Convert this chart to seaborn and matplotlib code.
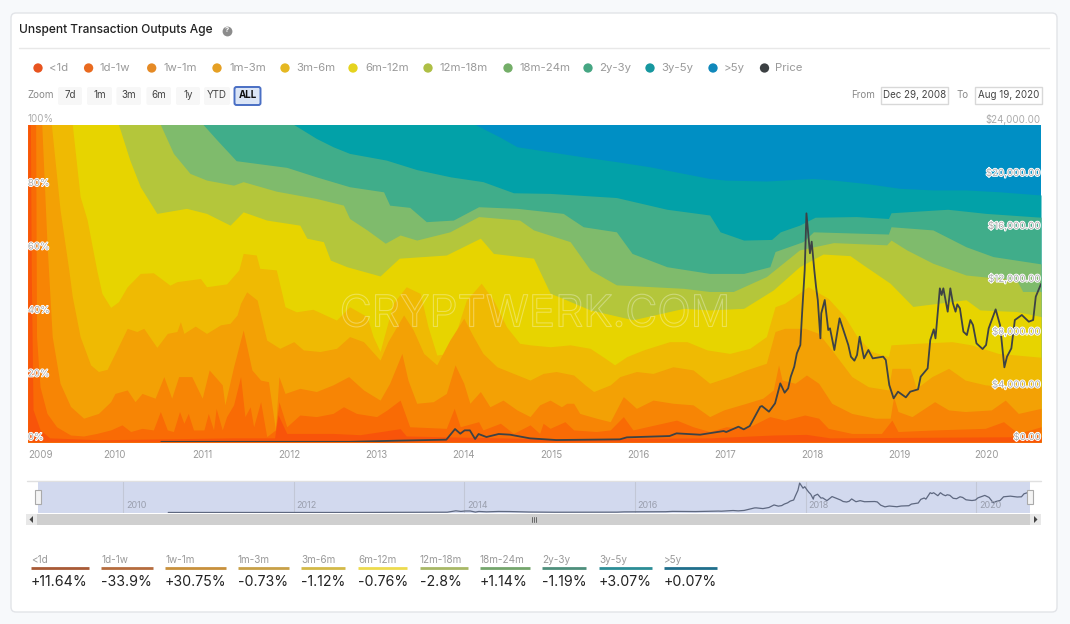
import matplotlib
matplotlib.use("Agg")
import matplotlib.pyplot as plt
import matplotlib.patheffects as pe
from matplotlib.patches import FancyBboxPatch, Rectangle, Polygon
import pandas as pd
import seaborn as sns

# series names and colours
bands = ["<1d", "1d-1w", "1w-1m", "1m-3m", "3m-6m", "6m-12m", "12m-18m", "18m-24m", "2y-3y", "3y-5y", ">5y"]
band_colors = ["#f8540a", "#f96b05", "#f78505", "#f3a105", "#efba03", "#e7d400", "#b4c63b", "#7fbb6c", "#40ad8a", "#02a1a8", "#008fc4"]
dot_colors = ["#e8541f", "#e96a1f", "#e58a25", "#e5a024", "#e5b822", "#e5d31f", "#aebf45", "#74ae68", "#46a683", "#16979f", "#1088bb"]
rule_colors = ["#a85a36", "#b56c3e", "#c8903c", "#c8a047", "#d3b947", "#ecdb4e", "#a8b866", "#74a66c", "#4e8f7c", "#2c8d96", "#206f8c"]
changes = ["+11.64%", "-33.9%", "+30.75%", "-0.73%", "-1.12%", "-0.76%", "-2.8%", "+1.14%", "-1.19%", "+3.07%", "+0.07%"]

# upper edge of every band in percent
lt1d_yr = [2009.0, 2009.03, 2009.04, 2009.06, 2009.14, 2009.25, 2009.83, 2011.36, 2011.83, 2011.87, 2011.97, 2012.5, 2012.81, 2013.08, 2013.27, 2013.34, 2013.84, 2014.99, 2016.82, 2017.55, 2017.93, 2018.2, 2020.62]
lt1d_top = [100, 100, 52.1, 10.2, 3.9, 1.3, 0.7, 1.3, 1.3, 8.6, 2.7, 2.7, 2.3, 3.4, 4.2, 1.9, 1.6, 1.0, 1.3, 2.2, 2.4, 1.3, 1.7]

d1w_yr = [2009.0, 2009.09, 2009.1, 2009.14, 2009.22, 2009.33, 2009.49, 2009.64, 2009.79, 2009.95, 2010.08, 2010.18, 2010.31, 2010.44, 2010.52, 2010.6, 2010.67, 2010.74, 2010.79, 2010.84, 2010.9, 2011.02, 2011.07, 2011.13, 2011.16, 2011.23, 2011.28, 2011.36, 2011.44, 2011.49, 2011.55, 2011.59, 2011.67, 2011.74, 2011.84, 2011.88, 2011.97, 2012.12, 2012.31, 2012.5, 2012.62, 2012.77, 2013.0, 2013.12, 2013.27, 2013.38, 2013.8, 2013.89, 2013.96, 2014.17, 2014.22, 2014.42, 2014.57, 2014.76, 2014.87, 2014.91, 2014.99, 2015.16, 2015.26, 2015.52, 2015.68, 2015.83, 2015.94, 2016.1, 2016.44, 2016.63, 2016.82, 2017.01, 2017.24, 2017.51, 2017.68, 2017.91, 2018.07, 2018.18, 2018.45, 2018.79, 2018.91, 2018.98, 2019.4, 2019.98, 2020.19, 2020.36, 2020.62]
d1w_top = [100, 100, 33.2, 17.4, 9.0, 4.8, 2.2, 1.9, 2.7, 3.8, 5.4, 3.3, 4.3, 3.8, 9.6, 3.8, 3.3, 9.6, 5.9, 9.0, 3.8, 3.8, 9.0, 3.8, 10.6, 3.8, 8.0, 11.7, 20.6, 8.0, 11.1, 4.8, 12.7, 1.7, 3.8, 12.7, 4.8, 8.5, 8.0, 9.0, 11.1, 9.0, 8.0, 10.1, 13.2, 4.8, 4.3, 10.6, 4.8, 6.4, 3.8, 5.9, 2.7, 5.4, 2.7, 5.9, 4.3, 6.4, 3.8, 3.3, 3.8, 8.0, 3.8, 4.8, 6.9, 4.8, 3.3, 4.8, 4.3, 8.0, 6.9, 8.5, 7.5, 4.3, 2.7, 2.7, 6.9, 3.3, 3.8, 4.3, 6.4, 2.7, 4.8]

w1m_yr = [2009.0, 2009.16, 2009.22, 2009.28, 2009.37, 2009.49, 2009.64, 2009.81, 2009.95, 2010.0, 2010.14, 2010.23, 2010.31, 2010.46, 2010.56, 2010.65, 2010.73, 2010.88, 2011.0, 2011.08, 2011.23, 2011.26, 2011.36, 2011.47, 2011.57, 2011.67, 2011.76, 2011.84, 2011.88, 2011.95, 2012.12, 2012.31, 2012.5, 2012.68, 2012.85, 2013.04, 2013.15, 2013.29, 2013.36, 2013.46, 2013.65, 2013.8, 2013.9, 2014.0, 2014.07, 2014.19, 2014.3, 2014.45, 2014.61, 2014.76, 2014.87, 2014.99, 2015.12, 2015.18, 2015.26, 2015.33, 2015.52, 2015.68, 2015.83, 2015.98, 2016.17, 2016.4, 2016.63, 2016.82, 2016.98, 2017.24, 2017.43, 2017.55, 2017.61, 2017.65, 2017.8, 2017.93, 2018.07, 2018.22, 2018.45, 2018.72, 2018.89, 2018.93, 2018.98, 2019.14, 2019.4, 2019.56, 2019.75, 2020.05, 2020.21, 2020.36, 2020.62]
w1m_top = [100, 100, 62.6, 33.2, 18.5, 11.2, 7.5, 9.0, 12.7, 15.3, 16.4, 12.7, 15.3, 13.8, 20.6, 13.8, 20.6, 20.6, 13.8, 22.7, 18.0, 11.7, 23.7, 35.3, 22.7, 19.5, 19.0, 3.9, 20.6, 15.3, 16.9, 15.9, 18.0, 20.6, 16.4, 13.2, 18.5, 27.9, 19.5, 12.2, 12.7, 15.3, 24.3, 18.5, 12.2, 15.9, 11.1, 13.2, 10.1, 8.0, 11.7, 13.2, 11.1, 12.2, 12.2, 9.0, 7.5, 6.4, 14.3, 10.6, 13.2, 12.2, 11.7, 8.0, 10.1, 12.2, 13.8, 16.4, 24.3, 19.5, 18.5, 21.1, 18.5, 12.2, 9.0, 7.5, 7.5, 14.3, 9.6, 8.0, 12.7, 10.1, 9.6, 10.1, 13.2, 9.0, 10.6]

m3m_yr = [2009.0, 2009.27, 2009.37, 2009.47, 2009.51, 2009.6, 2009.72, 2009.81, 2009.91, 2010.02, 2010.14, 2010.25, 2010.33, 2010.48, 2010.6, 2010.71, 2010.75, 2010.79, 2010.92, 2011.05, 2011.21, 2011.32, 2011.4, 2011.44, 2011.51, 2011.63, 2011.74, 2011.89, 2012.05, 2012.16, 2012.35, 2012.54, 2012.69, 2012.85, 2013.04, 2013.13, 2013.31, 2013.42, 2013.54, 2013.69, 2013.84, 2014.0, 2014.11, 2014.22, 2014.38, 2014.57, 2014.76, 2014.91, 2015.06, 2015.26, 2015.39, 2015.49, 2015.68, 2015.79, 2015.98, 2016.17, 2016.4, 2016.63, 2016.82, 2017.05, 2017.24, 2017.47, 2017.57, 2017.68, 2017.91, 2018.07, 2018.22, 2018.45, 2018.64, 2018.87, 2018.91, 2019.12, 2019.19, 2019.37, 2019.56, 2019.75, 2019.98, 2020.21, 2020.62]
m3m_top = [100, 100, 73.1, 54.2, 45.8, 33.2, 24.3, 22.2, 22.9, 29.0, 35.8, 34.8, 35.8, 29.8, 34.2, 34.8, 37.9, 34.2, 36.5, 34.2, 36.9, 37.4, 40.0, 43.7, 47.3, 44.7, 32.1, 29.5, 31.6, 29.0, 28.5, 29.5, 33.2, 31.6, 25.8, 31.6, 40.0, 35.3, 27.9, 24.3, 32.1, 39.0, 33.2, 27.9, 23.7, 21.6, 19.5, 21.6, 22.2, 21.1, 18.0, 15.9, 18.0, 20.6, 22.2, 21.6, 23.7, 22.7, 18.5, 20.6, 22.7, 24.8, 34.8, 35.8, 35.8, 34.2, 29.0, 20.6, 17.4, 16.4, 23.2, 23.2, 16.9, 20.6, 23.2, 19.5, 18.0, 17.4, 17.4]

m6m_yr = [2009.0, 2009.51, 2009.6, 2009.68, 2009.79, 2009.85, 2009.95, 2010.04, 2010.14, 2010.29, 2010.44, 2010.63, 2010.71, 2010.98, 2011.05, 2011.28, 2011.42, 2011.47, 2011.62, 2011.66, 2011.85, 2011.95, 2012.08, 2012.27, 2012.54, 2012.69, 2012.89, 2012.96, 2013.04, 2013.19, 2013.34, 2013.5, 2013.59, 2013.69, 2013.84, 2013.92, 2014.03, 2014.2, 2014.34, 2014.49, 2014.64, 2014.76, 2014.99, 2015.22, 2015.45, 2015.62, 2015.73, 2015.87, 2016.06, 2016.36, 2016.56, 2016.79, 2017.05, 2017.28, 2017.47, 2017.57, 2017.68, 2017.95, 2018.18, 2018.37, 2018.51, 2018.68, 2018.87, 2018.9, 2019.21, 2019.6, 2019.82, 2020.13, 2020.62]
m6m_top = [100, 100, 77.3, 70.0, 54.2, 46.8, 42.4, 44.2, 48.9, 53.1, 53.3, 49.4, 50.5, 51.5, 48.9, 49.8, 54.2, 59.4, 58.9, 54.7, 54.2, 42.6, 41.0, 41.8, 38.4, 42.6, 39.5, 33.2, 28.5, 43.7, 48.9, 46.8, 36.3, 27.4, 27.9, 35.3, 44.7, 50.0, 44.7, 36.3, 31.1, 30.6, 30.0, 30.6, 29.5, 26.4, 24.3, 26.9, 29.0, 31.6, 31.6, 29.0, 27.9, 29.5, 33.2, 42.6, 43.7, 48.9, 45.2, 39.5, 33.2, 28.5, 26.9, 30.6, 31.1, 31.6, 30.6, 27.9, 26.7]

m12m_yr = [2009.0, 2010.04, 2010.17, 2010.29, 2010.48, 2010.82, 2011.05, 2011.32, 2011.47, 2011.74, 2012.12, 2012.2, 2012.39, 2012.47, 2012.66, 2013.04, 2013.26, 2013.8, 2014.19, 2014.34, 2014.8, 2014.99, 2015.45, 2015.94, 2016.52, 2016.82, 2017.21, 2017.55, 2017.85, 2018.12, 2018.43, 2018.58, 2018.89, 2019.15, 2019.76, 2019.92, 2020.34, 2020.62]
m12m_top = [100, 100, 88.8, 80.4, 72.0, 73.6, 72.0, 68.3, 72.5, 69.9, 68.3, 64.2, 63.1, 57.3, 55.2, 52.3, 57.9, 58.9, 64.2, 59.4, 57.9, 46.9, 41.6, 38.5, 42.1, 41.6, 42.1, 47.9, 55.2, 59.2, 58.7, 55.8, 50.0, 42.7, 44.8, 41.6, 41.1, 39.5]

m18m_yr = [2009.0, 2010.52, 2010.67, 2010.86, 2011.05, 2011.36, 2011.47, 2011.85, 2012.31, 2012.62, 2012.69, 2012.89, 2013.1, 2013.27, 2013.46, 2013.84, 2014.17, 2014.64, 2014.8, 2015.22, 2015.45, 2015.75, 2016.52, 2016.82, 2017.09, 2017.47, 2017.85, 2018.24, 2018.85, 2018.9, 2019.08, 2019.38, 2019.76, 2020.34, 2020.41, 2020.62]
m18m_top = [100, 100, 90.9, 84.6, 82.5, 80.9, 82.0, 79.0, 76.7, 74.6, 70.4, 66.8, 62.6, 65.2, 63.6, 66.2, 71.0, 69.9, 66.8, 63.1, 54.2, 49.5, 48.4, 47.4, 47.4, 52.1, 60.5, 62.8, 62.1, 63.6, 60.5, 56.3, 52.6, 51.0, 47.4, 47.4]

m24m_yr = [2009.0, 2011.01, 2011.17, 2011.39, 2011.97, 2012.31, 2012.69, 2013.08, 2013.15, 2013.38, 2013.57, 2013.88, 2014.17, 2014.61, 2015.14, 2015.37, 2015.75, 2015.93, 2016.33, 2016.82, 2017.21, 2017.51, 2017.57, 2017.89, 2018.01, 2018.87, 2018.9, 2019.38, 2019.76, 2020.07, 2020.62]
m24m_top = [100, 100, 95.1, 88.6, 86.5, 83.5, 80.4, 78.8, 74.6, 73.9, 69.4, 69.9, 74.1, 73.6, 72.0, 67.8, 66.2, 59.4, 55.2, 53.1, 53.1, 55.2, 60.0, 63.1, 66.2, 65.5, 67.8, 66.8, 61.5, 58.4, 56.1]

y3y_yr = [2009.0, 2012.05, 2012.31, 2012.5, 2012.69, 2013.11, 2013.46, 2013.85, 2014.22, 2014.57, 2014.99, 2015.75, 2016.33, 2016.82, 2016.94, 2017.21, 2017.53, 2017.63, 2017.85, 2018.03, 2018.5, 2018.87, 2018.9, 2019.55, 2019.99, 2020.62]
y3y_top = [100, 100, 95.6, 93.0, 90.9, 88.8, 85.8, 83.5, 82.0, 78.5, 78.3, 77.0, 73.3, 71.5, 66.2, 63.6, 63.8, 66.2, 68.3, 70.8, 71.0, 70.4, 72.2, 73.3, 72.0, 70.8]

y5y_yr = [2009.0, 2014.13, 2014.41, 2014.61, 2014.99, 2015.37, 2015.75, 2016.13, 2016.52, 2016.82, 2017.0, 2017.47, 2018.0, 2018.24, 2018.62, 2019.0, 2019.38, 2019.76, 2020.15, 2020.62]
y5y_top = [100, 100, 96.1, 93.0, 91.4, 89.8, 88.3, 86.7, 84.6, 83.0, 82.5, 82.2, 83.0, 82.5, 81.4, 79.9, 79.4, 79.4, 78.8, 77.8]

over5y_yr = [2009.0, 2020.62]
over5y_top = [100, 100]

# price in dollars
price_yr = [2010.53, 2012.69, 2013.23, 2013.8, 2013.9, 2013.96, 2014.01, 2014.07, 2014.13, 2014.17, 2014.26, 2014.4, 2014.53, 2014.76, 2015.06, 2015.79, 2015.87, 2016.36, 2016.44, 2016.71, 2016.98, 2017.01, 2017.15, 2017.21, 2017.28, 2017.4, 2017.42, 2017.5, 2017.57, 2017.63, 2017.68, 2017.72, 2017.75, 2017.79, 2017.82, 2017.86, 2017.88, 2017.91, 2017.93, 2017.97, 2017.99, 2018.02, 2018.04, 2018.06, 2018.09, 2018.1, 2018.14, 2018.18, 2018.2, 2018.25, 2018.31, 2018.41, 2018.44, 2018.48, 2018.51, 2018.54, 2018.59, 2018.64, 2018.69, 2018.81, 2018.84, 2018.88, 2018.93, 2018.98, 2019.07, 2019.12, 2019.21, 2019.24, 2019.32, 2019.35, 2019.39, 2019.41, 2019.46, 2019.48, 2019.5, 2019.55, 2019.58, 2019.61, 2019.64, 2019.66, 2019.69, 2019.73, 2019.77, 2019.81, 2019.84, 2019.88, 2019.95, 2019.99, 2020.02, 2020.1, 2020.15, 2020.2, 2020.23, 2020.28, 2020.32, 2020.4, 2020.48, 2020.53, 2020.56, 2020.62]
price_usd = [10, 12, 100, 176, 981, 629, 880, 880, 226, 604, 377, 604, 554, 275, 149, 200, 351, 451, 653, 552, 829, 754, 1157, 955, 1207, 2669, 2717, 2291, 2921, 4433, 3727, 4055, 4937, 5693, 6701, 7331, 9725, 13001, 17285, 14266, 15146, 13001, 11741, 10733, 7835, 9725, 10733, 8465, 8591, 6953, 9347, 7331, 6449, 6147, 6575, 7961, 6323, 6953, 6323, 6449, 6197, 4307, 3299, 3803, 3375, 3803, 3979, 4937, 5567, 7709, 8515, 7835, 11615, 11111, 11615, 9851, 11615, 10481, 9851, 10405, 10103, 8339, 8087, 9221, 8843, 7457, 7029, 7331, 8591, 10027, 8843, 5643, 6449, 7079, 9221, 9599, 9095, 9221, 10985, 11943]

edge_yr = [lt1d_yr, d1w_yr, w1m_yr, m3m_yr, m6m_yr, m12m_yr, m18m_yr, m24m_yr, y3y_yr, y5y_yr, over5y_yr]
edge_top = [lt1d_top, d1w_top, w1m_top, m3m_top, m6m_top, m12m_top, m18m_top, m24m_top, y3y_top, y5y_top, over5y_top]

year_ticks = list(range(2009, 2021))
pct_ticks = [0, 20, 40, 60, 80, 100]
usd_ticks = [0, 4000, 8000, 12000, 16000, 20000, 24000]
zoom_buttons = ["7d", "1m", "3m", "6m", "1y", "YTD", "ALL"]

sns.set_theme(style="white")
plt.rcParams["font.family"] = ["Inter", "DejaVu Sans"]

W, H = 1070, 624
GREY = "#9a9a9a"
fig = plt.figure(figsize=(W / 100, H / 100), dpi=100, facecolor="#f7f9fb")


def px_axes(x0, y0, x1, y1, **kw):
    return fig.add_axes([x0 / W, 1 - y1 / H, (x1 - x0) / W, (y1 - y0) / H], **kw)


# page furniture, in pixel coordinates
ui = px_axes(0, 0, W, H)
ui.set_xlim(0, W)
ui.set_ylim(H, 0)
ui.axis("off")
ui.add_patch(FancyBboxPatch((11, 13), 1046, 599, boxstyle="round,pad=0,rounding_size=5",
                            fc="white", ec="#e2e4e8", lw=1))
ui.plot([19, 1049], [47.5, 47.5], color="#e8e8e8", lw=1)
ui.text(19, 30, "Unspent Transaction Outputs Age", fontsize=8.6, color="#222222", va="center", fontweight="medium")
ui.scatter([227], [30.5], s=50, color="#8c8c8c", lw=0)
ui.text(227, 30.5, "?", fontsize=5.5, color="white", ha="center", va="center", fontweight="bold")

# legend row
dot_x = [38, 88.6, 151.7, 217, 285, 353, 428, 508, 588, 650, 713, 764.5]
text_x = [49, 100, 163, 229, 296.5, 365, 440, 520, 599, 661, 724, 775.5]
sns.scatterplot(x=dot_x, y=[68] * 12, hue=bands + ["Price"], palette=dot_colors + ["#3c4043"],
                s=45, lw=0, legend=False, ax=ui)
for tx, name in zip(text_x, bands + ["Price"]):
    ui.text(tx, 68, name, fontsize=8.2, color=GREY, va="center")

# zoom buttons and date boxes
ui.text(27.5, 95.5, "Zoom", fontsize=7, color="#8a8a8a", va="center")
for x0, x1, name in zip([58, 87, 116.5, 146.5, 176, 204, 234.5], [82, 112, 141, 171, 200, 230, 260.5], zoom_buttons):
    cx = (x0 + x1) / 2
    if name == "ALL":
        ui.add_patch(FancyBboxPatch((x0, 87), x1 - x0, 18, boxstyle="round,pad=0,rounding_size=2",
                                    fc="#dbe5f6", ec="#4a6fc4", lw=1.4))
        ui.text(cx, 95.5, name, fontsize=7, color="#111111", ha="center", va="center", fontweight="bold")
    else:
        ui.add_patch(FancyBboxPatch((x0, 87), x1 - x0, 18, boxstyle="round,pad=0,rounding_size=2",
                                    fc="#f7f7f7", ec="none"))
        ui.text(cx, 95.5, name, fontsize=7, color="#444444", ha="center", va="center")
ui.text(863, 95, "From", fontsize=7, color="#8a8a8a", ha="center", va="center")
ui.text(963, 95, "To", fontsize=7, color="#8a8a8a", ha="center", va="center")
for bx, name in [(880.5, "Dec 29, 2008"), (974.5, "Aug 19, 2020")]:
    ui.add_patch(Rectangle((bx, 87), 67.5, 17, fc="white", ec="#d8d8d8", lw=1))
    ui.text(bx + 33.7, 95.5, name, fontsize=7, color="#444444", ha="center", va="center")

# stacked age bands, painted from the oldest down
ax = px_axes(27.8, 124.5, 1041, 442)
ax.set_xlim(2009, 2020.62)
ax.set_ylim(0, 100)
for yrs, top, col in reversed(list(zip(edge_yr, edge_top, band_colors))):
    ax.fill_between(yrs, 0, top, color=col, lw=0)
sns.despine(ax=ax, left=True, bottom=True)
ax.set_yticks([])
ax.set_xticks(year_ticks, [str(y) for y in year_ticks], fontsize=7, color=GREY)
ax.tick_params(axis="x", length=0, pad=6)
ax.get_xticklabels()[0].set_ha("left")

halo = [pe.withStroke(linewidth=1.3, foreground="white")]
for v in pct_ticks:
    t = ax.annotate(f"{v}%", (0, v), xycoords=("axes fraction", "data"), xytext=(0, 3.6),
                    textcoords="offset points", fontsize=7, color="#ababab", va="center")
    if v < 100:
        t.set_path_effects(halo)

# price on its own scale
ax2 = ax.twinx()
ax2.set_ylim(0, 24000)
ax2.set_yticks([])
sns.despine(ax=ax2, left=True, bottom=True, right=True)
price_df = pd.DataFrame({"year": price_yr, "price": price_usd})
sns.lineplot(data=price_df, x="year", y="price", color="#3d4245", lw=1.3, ax=ax2, estimator=None, sort=False)
ax2.set_xlabel("")
ax2.set_ylabel("")
for v in usd_ticks:
    t = ax2.annotate(f"${v:,.2f}", (1, v), xycoords=("axes fraction", "data"), xytext=(0, 3.6),
                     textcoords="offset points", fontsize=7, color="#ababab", va="center", ha="right")
    if v < 24000:
        t.set_path_effects(halo)
ax2.text(0.5006, 0.40, "CRYPTWERK.COM", transform=ax2.transAxes, fontsize=31.5, ha="center", va="center",
         color=(1, 1, 1, 0), path_effects=[pe.Stroke(linewidth=0.8, foreground=(1, 1, 1, 0.32))])

# navigator
ui.plot([27, 1041], [481, 481], color="#e0e0e0", lw=1)
nav = px_axes(37.7, 481.5, 1030, 513)
nav.set_xlim(2009, 2020.63)
nav.set_ylim(-300, 18200)
nav.set_facecolor("#d2d9ee")
sns.despine(ax=nav, left=True, bottom=True)
nav.set_yticks([])
nav.set_xticks([2010, 2012, 2014, 2016, 2018, 2020], [])
nav.tick_params(length=0)
nav.grid(axis="x", color="#c2c7d6", lw=0.8)
sns.lineplot(data=price_df, x="year", y="price", color="#5e6880", lw=0.9, ax=nav, estimator=None, sort=False)
nav.set_xlabel("")
nav.set_ylabel("")
for y in [2010, 2012, 2014, 2016, 2018, 2020]:
    nav.annotate(str(y), (y, 0), xycoords=("data", "axes fraction"), xytext=(2, 3.5), textcoords="offset points",
                 fontsize=6.5, color="#9a9fae")

# scrollbar
ui.add_patch(Rectangle((26, 514), 1015, 11, fc="#e8e8e8", ec="none"))
ui.add_patch(Rectangle((37, 514), 993, 11, fc="#cfcfcf", ec="none"))
ui.add_patch(Polygon([[33, 516], [33, 523], [29.5, 519.5]], fc="#444444", ec="none"))
ui.add_patch(Polygon([[1034, 516], [1034, 523], [1037.5, 519.5]], fc="#444444", ec="none"))
for gx in [532, 534, 536]:
    ui.plot([gx, gx], [517, 522], color="#666666", lw=0.7)

# navigator handles sit above the price line
top = px_axes(0, 0, W, H)
top.set_xlim(0, W)
top.set_ylim(H, 0)
top.axis("off")
top.patch.set_alpha(0)
for hx in [37.5, 1029.5]:
    top.add_patch(Rectangle((hx - 3, 490), 6, 14, fc="#f4f4f4", ec="#aaaaaa", lw=0.8))

# bottom summary
stat_x0 = [31, 101, 165, 238, 301, 358, 420, 480, 542, 599, 664]
stat_x1 = [89, 153, 226, 289, 345, 407, 468, 530, 586, 652, 717]
for x0, x1, name, col, val in zip(stat_x0, stat_x1, bands, rule_colors, changes):
    ui.text(x0, 560, name, fontsize=7.2, color=GREY, va="center")
    ui.plot([x0, x1], [568, 568], color=col, lw=2, solid_capstyle="butt")
    ui.text(x0, 582, val, fontsize=10.2, color="#222222", va="center")

fig.savefig("out.png", dpi=100, facecolor=fig.get_facecolor())
